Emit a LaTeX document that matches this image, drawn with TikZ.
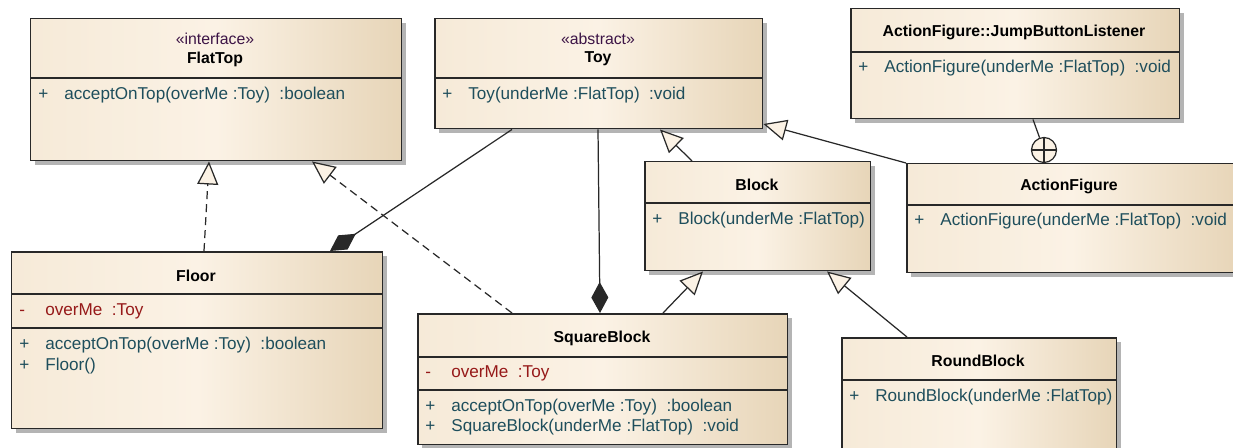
\documentclass[tikz,border=0pt]{standalone}
\usepackage{fontspec}
\setmainfont{Liberation Sans}
\usetikzlibrary{arrows.meta,shadows}

\definecolor{clsleft}{RGB}{246,234,216}
\definecolor{clsmid}{RGB}{251,242,229}
\definecolor{clsright}{RGB}{231,213,184}
\definecolor{edgegray}{RGB}{40,40,40}
\definecolor{shadowgray}{RGB}{180,180,180}
\definecolor{opcol}{RGB}{30,78,92}
\definecolor{attrcol}{RGB}{150,25,25}
\definecolor{stereocol}{RGB}{60,20,70}

\newcommand\vis[1]{\makebox[0.52cm][l]{#1}}

\tikzset{
  classbox/.style={draw=edgegray, line width=0.85pt, anchor=north west, inner sep=0pt,
    left color=clsleft, right color=clsright, middle color=clsmid,
    drop shadow={shadow xshift=0.08cm, shadow yshift=-0.08cm, fill=shadowgray, opacity=1}},
  divider/.style={draw=edgegray, line width=0.85pt},
  title/.style={font=\fontsize{9}{11}\selectfont\bfseries, inner sep=0pt},
  stereo/.style={font=\fontsize{9}{11}\selectfont, text=stereocol, inner sep=0pt},
  member/.style={font=\fontsize{9.75}{11}\selectfont, anchor=west, inner sep=0pt},
  op/.style={member, text=opcol},
  attr/.style={member, text=attrcol},
  link/.style={draw=edgegray, line width=0.7pt},
  inherit/.style={link, -{Triangle[length=0.46cm, width=0.42cm, fill=clsmid]}},
  realize/.style={inherit, dash pattern=on 0.16cm off 0.1cm},
  compose/.style={link, -{Diamond[length=0.62cm, width=0.34cm]}}
}

\begin{document}
\begin{tikzpicture}[x=0.02cm, y=-0.02cm]
\useasboundingbox (0,0) rectangle (1233,447);

% FlatTop
\node[classbox, minimum width=7.42cm, minimum height=2.84cm] (flattop) at (30,18) {};
\draw[divider] (flattop.west |- 0,78) -- (flattop.east |- 0,78);
\node[stereo] (flattop-st) at (215,39) {«interface»};
\node[title] (flattop-t) at (215,59) {FlatTop};
\node[op] (flattop-m1) at (38,95) {\vis{+}acceptOnTop(overMe :Toy)\ \ :boolean};

% Toy
\node[classbox, minimum width=6.56cm, minimum height=2.2cm] (toy) at (434,18) {};
\draw[divider] (toy.west |- 0,78) -- (toy.east |- 0,78);
\node[stereo] (toy-st) at (598,39) {«abstract»};
\node[title] (toy-t) at (598,59) {Toy};
\node[op] (toy-m1) at (442,95) {\vis{+}Toy(underMe :FlatTop)\ \ :void};

% ActionFigure::JumpButtonListener
\node[classbox, minimum width=6.58cm, minimum height=2.2cm] (jbl) at (850,8) {};
\draw[divider] (jbl.west |- 0,52) -- (jbl.east |- 0,52);
\node[title] (jbl-t) at (1014,32) {ActionFigure::JumpButtonListener};
\node[op] (jbl-m1) at (858,68) {\vis{+}ActionFigure(underMe :FlatTop)\ \ :void};

% Block
\node[classbox, minimum width=4.52cm, minimum height=2.18cm] (block) at (644,161) {};
\draw[divider] (block.west |- 0,203) -- (block.east |- 0,203);
\node[title] (block-t) at (757,185) {Block};
\node[op] (block-m1) at (652,220) {\vis{+}Block(underMe :FlatTop)};

% ActionFigure
\node[classbox, minimum width=6.6cm, minimum height=2.18cm] (action) at (906,163) {};
\draw[divider] (action.west |- 0,205) -- (action.east |- 0,205);
\node[title] (action-t) at (1069,186) {ActionFigure};
\node[op] (action-m1) at (914,221) {\vis{+}ActionFigure(underMe :FlatTop)\ \ :void};

% Floor
\node[classbox, minimum width=7.42cm, minimum height=3.54cm] (floor) at (11,251) {};
\draw[divider] (floor.west |- 0,294) -- (floor.east |- 0,294);
\draw[divider] (floor.west |- 0,328) -- (floor.east |- 0,328);
\node[title] (floor-t) at (196,276) {Floor};
\node[attr] (floor-a1) at (19,311) {\vis{-}overMe\ \ :Toy};
\node[op] (floor-m1) at (19,345) {\vis{+}acceptOnTop(overMe :Toy)\ \ :boolean};
\node[op] (floor-m2) at (19,366) {\vis{+}Floor()};

% SquareBlock
\node[classbox, minimum width=7.4cm, minimum height=2.62cm] (square) at (417,313) {};
\draw[divider] (square.west |- 0,357) -- (square.east |- 0,357);
\draw[divider] (square.west |- 0,390) -- (square.east |- 0,390);
\node[title] (square-t) at (602,338) {SquareBlock};
\node[attr] (square-a1) at (425,373) {\vis{-}overMe\ \ :Toy};
\node[op] (square-m1) at (425,407) {\vis{+}acceptOnTop(overMe :Toy)\ \ :boolean};
\node[op] (square-m2) at (425,427) {\vis{+}SquareBlock(underMe :FlatTop)\ \ :void};

% RoundBlock
\node[classbox, minimum width=5.5cm, minimum height=2.66cm] (round) at (841,337) {};
\draw[divider] (round.west |- 0,380) -- (round.east |- 0,380);
\node[title] (round-t) at (978,361) {RoundBlock};
\node[op] (round-m1) at (849,397) {\vis{+}RoundBlock(underMe :FlatTop)};

% relations
\draw[realize] (floor.north -| 204,0) -- (flattop.south -| 209,0);
\draw[realize] (square.north -| 512,0) -- (flattop.south -| 312,0);
\draw[compose] (toy.south -| 512,0) -- (floor.north -| 330,0);
\draw[compose] (toy.south -| 598,0) -- (square.north -| 600,0);
\draw[inherit] (block.north -| 692,0) -- (toy.south -| 660,0);
\draw[inherit] (action.north west) -- (toy.east |- 0,124);
\draw[inherit] (square.north -| 663,0) -- (block.south -| 703,0);
\draw[inherit] (round.north -| 907,0) -- (block.south -| 827,0);

% nesting
\node[circle, link, fill=clsmid, minimum size=0.5cm, inner sep=0pt] (nest) at (1044,150) {};
\draw[link] (jbl.south -| 1033,0) -- (nest);
\draw[link] (nest.north) -- (nest.south) (nest.west) -- (nest.east);

\end{tikzpicture}
\end{document}
